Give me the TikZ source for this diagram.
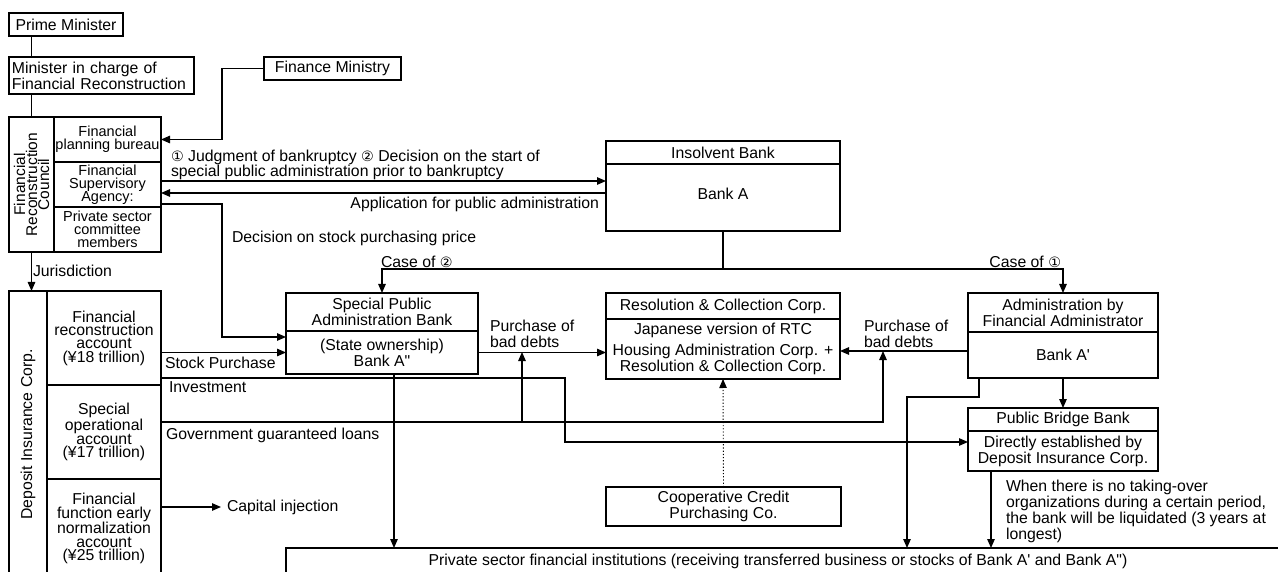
\documentclass[tikz,border=0pt]{standalone}
\usepackage{fontspec}
\setmainfont{Liberation Sans}
\newfontfamily\symf[Scale=0.9]{DejaVu Sans}
\usetikzlibrary{arrows.meta}
\newcommand\Bx[7][]{\node[bx,#1,minimum width={#5-#3},minimum height={#6-#4}] (#2) at ({(#3+#5)/2},{(#4+#6)/2}) {#7};}
\newcommand\cA{{\symf ①}}
\newcommand\cB{{\symf ②}}
\begin{document}
\begin{tikzpicture}[x=1pt,y=-1pt,
  every node/.style={font=\fontsize{15.8}{16}\selectfont, inner sep=0pt, outer sep=0pt},
  bx/.style={draw, line width=1.2pt, align=center, inner sep=1pt},
  arr/.style={line width=1.2pt, -{Triangle[length=9pt,width=7.5pt]}},
  ln/.style={line width=1.2pt},
  small/.style={font=\fontsize{14.5}{13}\selectfont},
  tight/.style={font=\fontsize{15.8}{13.3}\selectfont}]
\useasboundingbox (0,0) rectangle (1278,572);
\fill[white] (0,0) rectangle (1278,572);
\clip (0,0) rectangle (1278,572);
% boxes
\Bx{pm}{9}{13}{123}{36}{Prime Minister}
\Bx[align=left,text width=179pt,font=\fontsize{15.8}{13}\selectfont]{mn}{9}{57}{194}{94}{Minister in charge of\\Financial Reconstruction}
\Bx{fm}{264}{57}{401}{80}{Finance Ministry}
\Bx{frcL}{9}{117}{54}{252}{}
\node[rotate=90, align=center, font=\fontsize{15.5}{12}\selectfont] (frctxt) at (frcL) {Financial\\Reconstruction\\Council};
\Bx[small]{fpb}{54}{117}{161}{162}{Financial\\planning bureau}
\Bx[small]{fsa}{54}{162}{161}{207}{Financial\\Supervisory\\Agency:}
\Bx[small]{psc}{54}{207}{161}{252}{Private sector\\committee\\members}
\Bx{dicL}{9}{291}{47}{578}{}
\node[rotate=90] (dictxt) at (dicL) {Deposit Insurance Corp.};
\Bx[tight]{acc1}{47}{291}{161}{385}{Financial\\reconstruction\\account\\(¥18 trillion)}
\Bx[tight]{acc2}{47}{385}{161}{479}{Special\\operational\\account\\(¥17 trillion)}
\Bx[tight]{acc3}{47}{479}{161}{578}{Financial\\function early\\normalization\\account\\(¥25 trillion)}
\Bx{ibT}{606}{141}{840}{164}{Insolvent Bank}
\Bx{ibB}{606}{164}{840}{231}{\raisebox{8pt}{Bank A}}
\Bx{spbT}{286}{293}{478}{331}{Special Public\\Administration Bank}
\Bx{spbB}{286}{331}{478}{374}{(State ownership)\\Bank A\textquotedbl}
\Bx{rccT}{606}{293}{840}{319}{Resolution \& Collection Corp.}
\Bx{rccB}{606}{319}{840}{379}{Japanese version of RTC\\[5pt]Housing Administration Corp. +\\Resolution \& Collection Corp.}
\Bx{admT}{968}{293}{1158}{332}{Administration by\\Financial Administrator}
\Bx{admB}{968}{332}{1158}{378}{Bank A\textquotesingle}
\Bx{pbbT}{968}{408}{1158}{431}{Public Bridge Bank}
\Bx{pbbB}{968}{431}{1158}{471}{Directly established by\\Deposit Insurance Corp.}
\Bx{ccp}{606}{487}{841}{526}{Cooperative Credit\\Purchasing Co.}
\Bx{priv}{286}{548}{1300}{600}{}
\node (privtxt) at (778,561) {Private sector financial institutions (receiving transferred business or stocks of Bank A\textquotesingle{} and Bank A\textquotedbl)};
% labels
\node[anchor=west, align=left, font=\fontsize{15.8}{11.5}\selectfont] (jlab) at (171,165) {\cA{} Judgment of bankruptcy \cB{} Decision on the start of\\special public administration prior to bankruptcy};
\node[anchor=east] (alab) at (599,204) {Application for public administration};
\node[anchor=west] (dlab) at (232,238) {Decision on stock purchasing price};
\node[anchor=west] (c2lab) at (381,262) {Case of \cB};
\node[anchor=east] (c1lab) at (1061,262) {Case of \cA};
\node[anchor=west] (jurlab) at (33,271) {Jurisdiction};
\node[anchor=west] (splab) at (165,363) {Stock Purchase};
\node[anchor=west] (invlab) at (169,387) {Investment};
\node[anchor=west] (gglab) at (166,435) {Government guaranteed loans};
\node[anchor=west] (cilab) at (227,507) {Capital injection};
\node[anchor=west, align=left] (pb1lab) at (490,334) {Purchase of\\bad debts};
\node[anchor=west, align=left] (pb2lab) at (864,334) {Purchase of\\bad debts};
\node[anchor=west, align=left] (liqlab) at (1006,511) {When there is no taking-over\\organizations during a certain period,\\the bank will be liquidated (3 years at\\longest)};
% connectors
\draw[ln] (pm.south -| frcL.north) -- (mn.north -| frcL.north);
\draw[ln] (mn.south -| frcL.north) -- (frcL.north);
\draw[arr] (frcL.south) -- (frcL.south |- dicL.north);
\draw[arr] (fm.west) -- (fm.west -| 222,0) |- (fpb.east);
\draw[arr] (fsa.east |- 0,181) -- (ibB.west |- 0,181);
\draw[arr] (ibB.west |- 0,193) -- (fsa.east |- 0,193);
\draw[arr] (fsa.east |- 0,204) -- (222,204) |- (spbB.west |- 0,337);
\draw[ln] (ibB.south) -- (ibB.south |- 0,269);
\draw[arr] (ibB.south |- 0,269) -| (spbT.north);
\draw[arr] (ibB.south |- 0,269) -| (admT.north);
\draw[arr] (acc1.east |- spbB.west) -- (spbB.west);
\draw[arr] (acc1.east |- 0,378) -- (565,378) |- (pbbB.west |- 0,442);
\draw[arr] (acc2.east |- 0,422) -| (883,351);
\draw[arr] (522,422) -- (522,352);
\draw[arr] (acc3.east |- 0,507) -- ([xshift=-6pt]cilab.west);
\draw[arr] (spbB.east) -- (rccB.west |- spbB.east);
\draw[arr] (admB.west |- 0,351) -- (rccB.east |- 0,351);
\draw[arr, dotted, line width=0.9pt] (ccp.north) -- (rccB.south);
\draw[arr] (admB.south) -- (pbbT.north);
\draw[arr] (admB.south -| 979,0) -- (979,397) -| (priv.north -| 907,0);
\draw[arr] (pbbB.south -| 991,0) -- (priv.north -| 991,0);
\draw[arr] (spbB.south -| 394,0) -- (priv.north -| 394,0);
\end{tikzpicture}
\end{document}
